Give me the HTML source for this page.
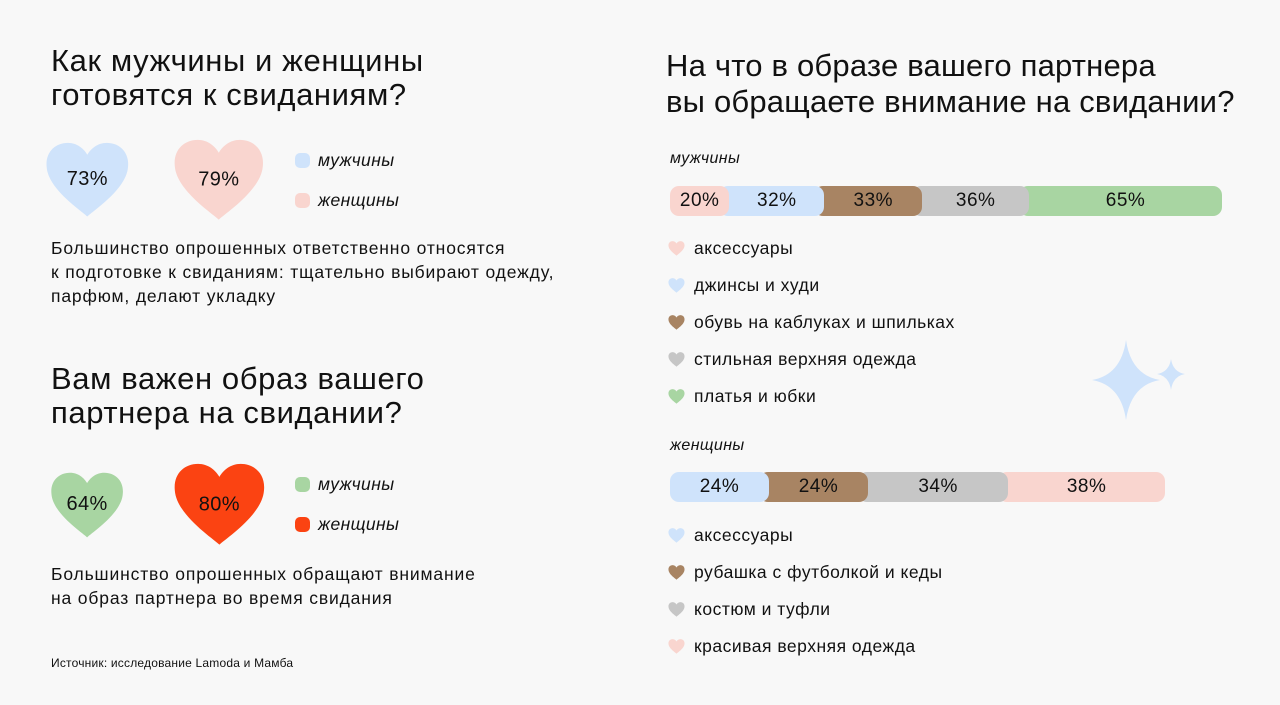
<!DOCTYPE html>
<html><head><meta charset="utf-8">
<style>
body{margin:0;width:1280px;height:705px;background:#f8f8f8;font-family:"Liberation Sans","DejaVu Sans",sans-serif;color:#111;position:relative;overflow:hidden}
.abs{position:absolute}
h2{margin:0;font-weight:400;font-size:31px;line-height:34px;position:absolute;letter-spacing:0.6px}
.p{font-size:17.5px;line-height:24px;position:absolute;letter-spacing:0.85px}
.leg{font-size:17.5px;font-style:italic;position:absolute;letter-spacing:0.4px}
.dot{display:inline-block;width:15px;height:15px;border-radius:5px;vertical-align:-2px;margin-right:8px}
.li{font-size:17.5px;position:absolute;letter-spacing:0.5px}
</style></head><body>
<h2 style="left:51px;top:44px">Как мужчины и женщины<br>готовятся к свиданиям?</h2>
<div class="p" style="left:51px;top:236px">Большинство опрошенных ответственно относятся<br>к подготовке к свиданиям: тщательно выбирают одежду,<br>парфюм, делают укладку</div>
<h2 style="left:51px;top:362px">Вам важен образ вашего<br>партнера на свидании?</h2>
<div class="p" style="left:51px;top:562px">Большинство опрошенных обращают внимание<br>на образ партнера во время свидания</div>
<div class="abs" style="left:51px;top:656px;font-size:12px;letter-spacing:0.2px">Источник: исследование Lamoda и Мамба</div>
<h2 style="left:666px;top:48px;line-height:36px;font-size:31px;letter-spacing:0.2px">На что в образе вашего партнера<br>вы обращаете внимание на свидании?</h2>
<div class="leg" style="left:670px;top:150px;font-size:16px">мужчины</div>
<div class="leg" style="left:670px;top:437px;font-size:16px">женщины</div>
<svg class="abs" style="left:0;top:0" width="1280" height="705">
<path d="M1126 340 Q1131 375 1160 380 Q1131 385 1126 420 Q1121 385 1092 380 Q1121 375 1126 340Z" fill="#cfe3fb"/>
<path d="M1171 359 Q1173 372 1185 374 Q1173 376 1171 390 Q1169 376 1157 374 Q1169 372 1171 359Z" fill="#cfe3fb"/>
</svg>
<div id="root"></div>
<script>
const prepGroups=["мужчины","женщины"];
const prepValues=[73,79];
const prepColors=["#cfe3fb","#f9d5cf"];
const impValues=[64,80];
const impColors=["#a8d5a2","#fb4312"];
const menCats=["аксессуары","джинсы и худи","обувь на каблуках и шпильках","стильная верхняя одежда","платья и юбки"];
const menValues=[20,32,33,36,65];
const menColors=["#f9d5cf","#cfe3fb","#a88463","#c6c6c6","#a8d5a2"];
const womenCats=["аксессуары","рубашка с футболкой и кеды","костюм и туфли","красивая верхняя одежда"];
const womenValues=[24,24,34,38];
const womenColors=["#cfe3fb","#a88463","#c6c6c6","#f9d5cf"];

const root=document.getElementById('root');
const NS="http://www.w3.org/2000/svg";
function heart(cx,cy,val,color,name){
  const w=val*1.16, h=w*0.9;
  const s=document.createElementNS(NS,'svg');
  s.setAttribute('width',w);s.setAttribute('height',h);
  s.setAttribute('viewBox','0 0 100 90');
  s.setAttribute('style',`position:absolute;left:${cx-w/2}px;top:${cy-h/2}px`);
  
  
  s.innerHTML=`<path d="M50 88 C44 82 4 56 2 30 C0 12 12 1 27 1 C38 1 46 8 50 15 C54 8 62 1 73 1 C88 1 100 12 98 30 C96 56 56 82 50 88Z" fill="${color}"/><text x="50" y="51" text-anchor="middle" font-family="Liberation Sans, sans-serif" font-size="${2000/w}" letter-spacing="${40/w}" fill="#111">${val}%</text>`;
  root.appendChild(s);
}
const heartX=[87,219];
prepValues.forEach((v,i)=>heart(heartX[i],180,v,prepColors[i],'heart-prep-'+i));
impValues.forEach((v,i)=>heart(heartX[i],505,v,impColors[i],'heart-imp-'+i));
function legend(y0,colors,prefix){
  prepGroups.forEach((g,i)=>{
    const d=document.createElement('div');d.className='leg';
    d.style.left='295px';d.style.top=(y0+i*40)+'px';
    d.innerHTML=`<span class="dot" style="background:${colors[i]}"></span>${g}`;
    
    
    root.appendChild(d);
  });
}
legend(150,prepColors,'prep');legend(474,impColors,'imp');

function bar(y,vals,colors,scale,name){
  let x=670;
  vals.forEach((v,i)=>{
    const w=v*scale;
    const d=document.createElement('div');
    const first=i===0;
    d.style.cssText=`position:absolute;left:${x-(first?0:10)}px;top:${y}px;width:${w+(first?0:10)}px;height:30px;background:${colors[i]};border-radius:9px;z-index:${10-i};font-size:19px;line-height:30px;text-align:center;padding-left:${first?0:10}px;box-sizing:border-box;letter-spacing:0.5px`;
    d.textContent=v+'%';
    
    
    root.appendChild(d);
    x+=w;
  });
}
bar(186,menValues,menColors,552/186,'men-bar');
bar(472,womenValues,womenColors,495/120,'women-bar');
function list(y0,cats,colors,name){
  cats.forEach((c,i)=>{
    const d=document.createElement('div');d.className='li';
    d.style.left='668px';d.style.top=(y0+i*37)+'px';
    d.innerHTML=`<svg width="17" height="15" viewBox="0 0 100 90" style="vertical-align:-2px;margin-right:9px"><path d="M50 88 C44 82 4 56 2 30 C0 12 12 1 27 1 C38 1 46 8 50 15 C54 8 62 1 73 1 C88 1 100 12 98 30 C96 56 56 82 50 88Z" fill="${colors[i]}"/></svg>${c}`;
    
    
    root.appendChild(d);
  });
}
list(238,menCats,menColors,'men');
list(525,womenCats,womenColors,'women');
</script>
</body></html>
